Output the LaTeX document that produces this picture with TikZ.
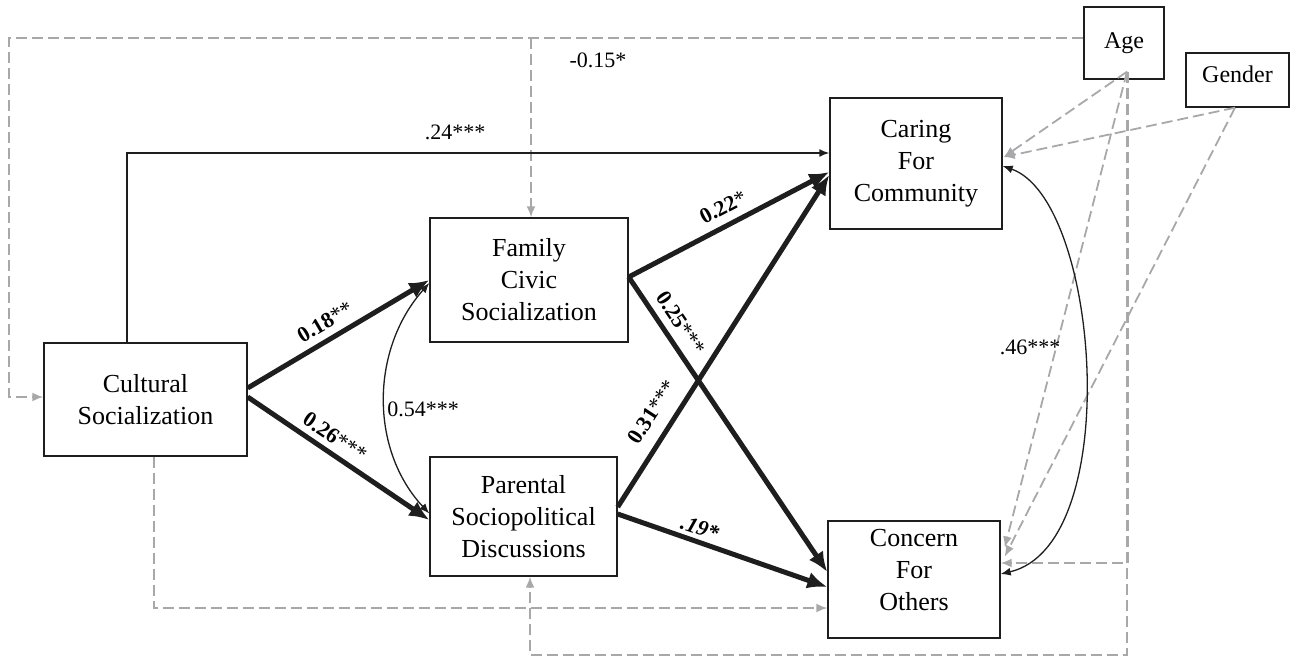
\documentclass[tikz,border=0pt]{standalone}
\usepackage{fontspec}
\setmainfont{Liberation Serif}
\usetikzlibrary{arrows.meta,calc}
\definecolor{dgray}{RGB}{168,168,170}
\definecolor{ink}{RGB}{30,30,30}
\begin{document}
\begin{tikzpicture}[x=1pt,y=-1pt,
  box/.style={draw=ink,line width=1.4pt,inner sep=0pt,align=center,font=\fontsize{26}{32}\selectfont},
  smallbox/.style={box,font=\fontsize{24}{28}\selectfont},
  lab/.style={font=\fontsize{22}{26}\selectfont,inner sep=0pt},
  patharrow/.style={draw=ink,line width=5pt,line cap=butt,-{Latex[length=20pt,width=17pt]}},
  thinarrow/.style={draw=ink,line width=1.5pt,-{Latex[length=10pt,width=8pt]}},
  covarrow/.style={draw=ink,line width=1.3pt,{Latex[length=10pt,width=8pt]}-{Latex[length=10pt,width=8pt]}},
  dashline/.style={draw=dgray,line width=1.8pt,dash pattern=on 11pt off 5pt},
  dasharrow/.style={dashline,-{Latex[length=11pt,width=9pt]}}]
\useasboundingbox (0,0) rectangle (1290,661);

% boxes
\node[box,minimum width=203pt,minimum height=113pt] (cult) at (145.5,399.5) {Cultural\\Socialization};
\node[box,minimum width=198pt,minimum height=124pt] (fam) at (529,280) {Family\\Civic\\Socialization};
\node[box,minimum width=187pt,minimum height=119pt] (par) at (523.5,516.5) {Parental\\Sociopolitical\\Discussions};
\node[box,minimum width=172pt,minimum height=131pt] (car) at (916,163.5) {Caring\\For\\Community};
\node[box,minimum width=172pt,minimum height=117pt] (con) at (914,579.5) {Concern\\For\\Others\rule[-20pt]{0pt}{20pt}};
\node[smallbox,minimum width=80pt,minimum height=72pt] (age) at (1124,43) {Age};
\node[smallbox,minimum width=103pt,minimum height=54pt] (gen) at (1237.5,80) {Gender\rule[-12pt]{0pt}{12pt}};

% helper coordinates
\coordinate (agesrc) at ([xshift=3pt,yshift=8pt]age.south);
\coordinate (gensrc) at ([xshift=-2.5pt]gen.south);
\coordinate (tl) at (9,38);
\coordinate (br) at (531,38);
\coordinate (bb) at (530,655);

% dashed control paths
\draw[dasharrow] ([yshift=5pt]age.west) -- (tl) |- ([yshift=2.5pt]cult.west);
\draw[dasharrow] (br) -- ([xshift=2pt]fam.north);
\draw[dasharrow] ([xshift=8.5pt]cult.south) |- ([yshift=-28.5pt]con.west);
\draw[dasharrow] (agesrc) |- (bb) -- ([xshift=6.5pt]par.south);
\draw[dasharrow] ([xshift=1pt]agesrc) |- ([yshift=16.5pt]con.east);
\draw[dasharrow] (agesrc) -- ([xshift=1pt,yshift=6.5pt]car.east);
\draw[dasharrow] (gensrc) -- ([xshift=1pt,yshift=6.5pt]car.east);
\draw[dasharrow] (agesrc) -- ([xshift=4pt,yshift=32pt]con.east);
\draw[dasharrow] (gensrc) -- ([xshift=4pt,yshift=23pt]con.east);

% solid direct path
\draw[thinarrow] ([xshift=-18.5pt]cult.north) |- ([yshift=10.5pt]car.west);

% thick paths
\draw[patharrow] ([yshift=11.5pt]cult.east) -- (fam.west);
\draw[patharrow] ([yshift=2.5pt]cult.east) -- ([yshift=-3.5pt]par.west);
\draw[patharrow] ([yshift=3pt]fam.east) -- ([yshift=-8.5pt]car.west);
\draw[patharrow] ([yshift=3pt]fam.east) -- ([yshift=7.5pt]con.west);
\draw[patharrow] ([yshift=9.5pt]par.east) -- ([yshift=-11.5pt]car.west);
\draw[patharrow] ([yshift=2.5pt]par.east) -- ([yshift=-7.5pt]con.west);

% covariances
\draw[covarrow] ([yshift=-3pt]fam.west) .. controls (370,350) and (370,450) .. ([yshift=3pt]par.west);
\draw[covarrow] ([yshift=-2.5pt]car.east) .. controls (1100,200) and (1125,545) .. ([yshift=5.5pt]con.east);

% labels
\node[lab] (l24) at (455,132) {.24***};
\node[lab] (l15) at (598,60) {-0.15*};
\node[lab,rotate=30.5] (l18) at (325,322) {\textbf{0.18}**};
\node[lab,rotate=-34] (l26) at (335,437) {\textbf{0.26}***};
\node[lab] (l54) at (423,409) {0.54***};
\node[lab,rotate=27.5] (l22) at (723,207) {\textbf{0.22}*};
\node[lab,rotate=-56] (l25) at (681,323) {\textbf{0.25}***};
\node[lab,rotate=57] (l31) at (652,412) {\textbf{0.31}***};
\node[lab,rotate=-19] (l19) at (700,528) {\textbf{\textit{.19*}}};
\node[lab] (l46) at (1030,347) {.46***};
\end{tikzpicture}
\end{document}
